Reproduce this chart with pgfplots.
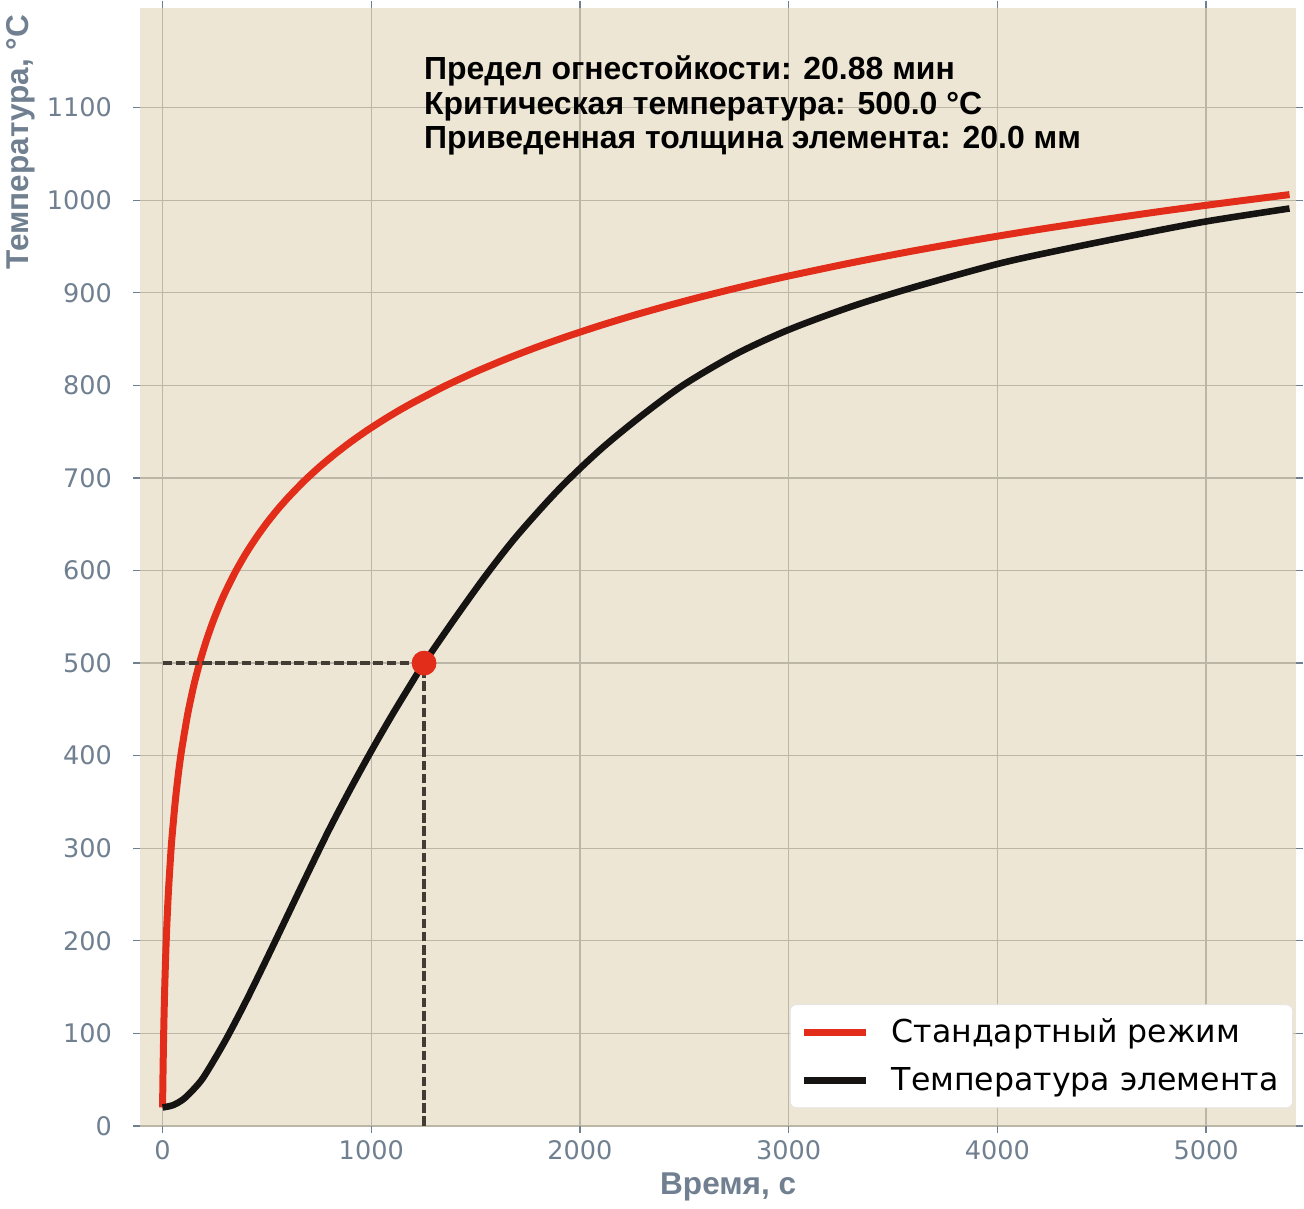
\documentclass[border=0pt]{standalone}
\usepackage{fontspec}
\setmainfont{Liberation Sans}
\newfontfamily\dejavu{DejaVu Sans}
\usepackage{pgfplots}
\pgfplotsset{compat=1.18}
\definecolor{bg}{RGB}{238,230,213}
\definecolor{gridc}{RGB}{188,182,166}
\definecolor{fire}{RGB}{225,45,25}
\definecolor{steel}{RGB}{22,20,18}
\definecolor{slate}{RGB}{112,128,144}
\definecolor{dashc}{RGB}{66,60,52}
\begin{document}
\begin{tikzpicture}
\begin{axis}[
  scale only axis, width=579pt, height=560pt,
  xmin=-108, xmax=5433, ymin=0, ymax=1208,
  axis background/.style={fill=bg},
  axis line style={draw=none},
  grid=major, grid style={gridc, line width=0.6pt},
  xtick={0,1000,...,5000}, ytick={0,100,...,1100},
  tick align=outside, major tick length=3.5pt,
  tick style={slate, line width=0.6pt},
  /pgf/number format/assume math mode=true,
  /pgf/number format/set thousands separator={},
  ticklabel style={font=\dejavu\fontsize{12.8}{15}\selectfont, text=slate},
  yticklabel style={xshift=-7pt},
  xlabel={Время, с}, ylabel={Температура, °C},
  label style={font=\bfseries\fontsize{15.8}{18}\selectfont, text=slate},
  xlabel style={xshift=5pt},
  ylabel style={at={(ticklabel cs:1)}, anchor=south east, yshift=-1pt},
  legend style={at={(rel axis cs:0.997,0.016)}, anchor=south east, fill=white, draw=gray!20, rounded corners=3pt, font=\dejavu\fontsize{15.8}{18}\selectfont, inner xsep=5pt, inner ysep=5pt, row sep=7pt, /tikz/every odd column/.append style={column sep=9pt}},
  legend cell align=left,
  legend image code/.code={\draw[#1] (0cm,0cm) -- (1.1cm,0cm);},
]
\addplot[fire, line width=3.5pt, smooth, tension=0.4] coordinates {
(0,20) (1,38.8) (2,55.4) (3,70.4) (5,96.5) (7,118.8) (10,147) (15,184.6) (20,214.7) (25,239.7) (30,261) (40,296.6) (45,311.6) (60,349) (75,379.3) (90,404.3) (120,444.5) (150,476.2) (180,502.3) (210,524.5) (240,543.9) (270,561.0) (300,576.4) (350,599.0) (400,618.6) (450,635.9) (500,651.5) (550,665.6) (600,678.4) (675,695.9) (750,711.5) (825,725.6) (900,738.6) (975,750.5) (1050,761.5) (1125,771.8) (1200,781.3) (1350,798.9) (1500,814.6) (1650,828.8) (1800,841.8) (1950,853.7) (2100,864.8) (2250,875.1) (2400,884.7) (2550,893.8) (2700,902.3) (2850,910.4) (3000,918.1) (3300,932.3) (3600,945.3) (3900,957.3) (4200,968.4) (4500,978.7) (4800,988.4) (5100,997.4) (5400,1006.0)
};
\addlegendentry{Стандартный режим}
\addplot[dashc, line width=1.6pt, dash pattern=on 4.8pt off 1.8pt, forget plot] coordinates {(0,500) (1253,500)};
\addplot[dashc, line width=1.6pt, dash pattern=on 4.8pt off 1.8pt, forget plot] coordinates {(1253,0) (1253,500)};
\addplot[only marks, mark=*, mark size=6pt, fire, forget plot] coordinates {(1253,500)};
\addplot[steel, line width=3.3pt, smooth, tension=0.5] coordinates {
(0,20) (50,22.5) (100,29) (150,40) (200,54) (300,92) (400,135) (500,181) (600,228) (700,275) (800,321) (900,364) (1000,405) (1100,444) (1200,481) (1253,500) (1400,548) (1550,595) (1700,638) (1900,688) (2100,731) (2300,768) (2500,801) (2750,834) (3000,860) (3300,885) (3600,906) (4000,931) (4300,946) (4650,962) (5000,977) (5400,991)
};
\addlegendentry{Температура элемента}
\node[anchor=base west, font=\bfseries\fontsize{16}{17.2}\selectfont, inner sep=0pt] at (rel axis cs:0.2453,0.9354) {Предел огнестойкости: 20.88 мин};
\node[anchor=base west, font=\bfseries\fontsize{16}{17.2}\selectfont, inner sep=0pt] at (rel axis cs:0.2453,0.9047) {Критическая температура: 500.0 °C};
\node[anchor=base west, font=\bfseries\fontsize{16}{17.2}\selectfont, inner sep=0pt] at (rel axis cs:0.2453,0.8741) {Приведенная толщина элемента: 20.0 мм};
\end{axis}
\end{tikzpicture}
\end{document}
